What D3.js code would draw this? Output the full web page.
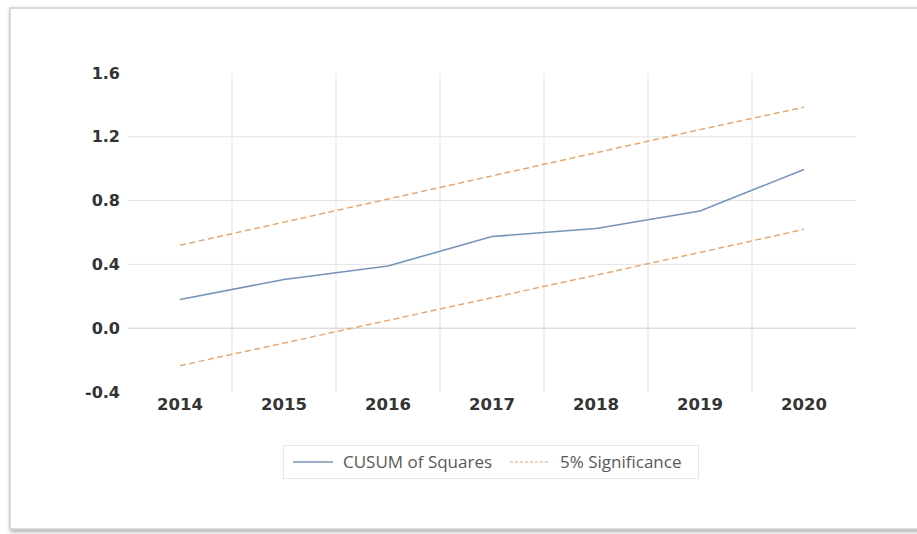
<!DOCTYPE html>
<html>
<head>
<meta charset="utf-8">
<script src="https://cdn.jsdelivr.net/npm/d3@7/dist/d3.min.js"></script>
<style>
  html, body { margin: 0; padding: 0; background: #ffffff; }
  svg { display: block; }
</style>
</head>
<body>
<svg id="chart" width="917" height="534"></svg>
<script>
// Years on the category axis
const years = ["2014", "2015", "2016", "2017", "2018", "2019", "2020"];
// CUSUM of squares statistic
const cusumSq = [0.18, 0.305, 0.39, 0.575, 0.625, 0.735, 0.995];
// 5% significance bounds
const upperBound = [0.52, 0.665, 0.81, 0.955, 1.10, 1.245, 1.385];
const lowerBound = [-0.235, -0.093, 0.049, 0.191, 0.333, 0.475, 0.62];
// Value-axis ticks
const yTicks = [-0.4, 0.0, 0.4, 0.8, 1.2, 1.6];

const svg = d3.select("#chart");

// Chart frame with soft shadow
const defs = svg.append("defs");
const shadow = defs.append("filter").attr("id", "frameShadow")
  .attr("x", "-5%").attr("y", "-5%").attr("width", "110%").attr("height", "110%");
shadow.append("feDropShadow").attr("dx", 1).attr("dy", 2)
  .attr("stdDeviation", 2).attr("flood-color", "#000").attr("flood-opacity", 0.35);

svg.append("rect")
  .attr("x", 10).attr("y", 8).attr("width", 930).attr("height", 521)
  .attr("fill", "#ffffff").attr("stroke", "#cfcfcf").attr("stroke-width", 1.5)
  .attr("filter", "url(#frameShadow)");

const plot = { left: 128, right: 856, top: 73, bottom: 392 };

const x = d3.scaleBand().domain(years).range([plot.left, plot.right]).padding(0);
const y = d3.scaleLinear().domain([-0.4, 1.6]).range([plot.bottom, plot.top]);

const g = svg.append("g");

// Horizontal gridlines (inner ticks only)
g.selectAll("line.hgrid")
  .data(yTicks.filter(v => v > -0.4 && v < 1.6 && v !== 0))
  .enter().append("line")
  .attr("x1", plot.left).attr("x2", plot.right)
  .attr("y1", d => y(d)).attr("y2", d => y(d))
  .attr("stroke", "#e3e3e3").attr("stroke-width", 1);

// Vertical gridlines between categories
g.selectAll("line.vgrid")
  .data(years.slice(1))
  .enter().append("line")
  .attr("x1", d => x(d)).attr("x2", d => x(d))
  .attr("y1", plot.top).attr("y2", plot.bottom)
  .attr("stroke", "#e3e3e3").attr("stroke-width", 1);

// Zero line
g.append("line")
  .attr("x1", plot.left).attr("x2", plot.right)
  .attr("y1", y(0)).attr("y2", y(0))
  .attr("stroke", "#cccccc").attr("stroke-width", 1);

// Y axis labels (plain hyphen for negatives)
const fmt = d => d3.format(".1f")(d).replace("\u2212", "-");
const yAxis = d3.axisLeft(y).tickValues(yTicks).tickFormat(fmt).tickSize(0).tickPadding(0);
const yAxisG = svg.append("g").attr("transform", `translate(120,0)`).call(yAxis);
yAxisG.select(".domain").remove();
yAxisG.selectAll("text")
  .attr("font-family", "'DejaVu Sans', Verdana, sans-serif")
  .attr("font-weight", "bold").attr("font-size", 16).attr("fill", "#333333");

// X axis labels
const xAxis = d3.axisBottom(x).tickSize(0).tickPadding(0);
const xAxisG = svg.append("g").attr("transform", `translate(0,398)`).call(xAxis);
xAxisG.select(".domain").remove();
xAxisG.selectAll("text")
  .attr("font-family", "'DejaVu Sans', Verdana, sans-serif")
  .attr("font-weight", "bold").attr("font-size", 16.5).attr("fill", "#333333");

const cx = d => x(d) + x.bandwidth() / 2;
const line = d3.line().x((d, i) => cx(years[i])).y(d => y(d));

const dashColor = "#e6a873";
const solidColor = "#7694b8";

g.append("path").datum(upperBound).attr("d", line)
  .attr("fill", "none").attr("stroke", dashColor).attr("stroke-width", 1.5)
  .attr("stroke-dasharray", "6,3.5");
g.append("path").datum(lowerBound).attr("d", line)
  .attr("fill", "none").attr("stroke", dashColor).attr("stroke-width", 1.5)
  .attr("stroke-dasharray", "6,3.5");
g.append("path").datum(cusumSq).attr("d", line)
  .attr("fill", "none").attr("stroke", solidColor).attr("stroke-width", 1.6);

// Legend
const legend = svg.append("g");
legend.append("rect")
  .attr("x", 283.5).attr("y", 445.5).attr("width", 415).attr("height", 33)
  .attr("fill", "#ffffff").attr("stroke", "#e6e6e6");
legend.append("line")
  .attr("x1", 293).attr("x2", 333).attr("y1", 462).attr("y2", 462)
  .attr("stroke", solidColor).attr("stroke-width", 1.5);
legend.append("text").attr("x", 343).attr("y", 468)
  .attr("font-family", "'Open Sans', sans-serif").attr("font-size", 17)
  .attr("fill", "#595959").text("CUSUM of Squares");
legend.append("line")
  .attr("x1", 510).attr("x2", 550).attr("y1", 462).attr("y2", 462)
  .attr("stroke", dashColor).attr("stroke-width", 1.2).attr("stroke-dasharray", "3,2");
legend.append("text").attr("x", 560).attr("y", 468)
  .attr("font-family", "'Open Sans', sans-serif").attr("font-size", 17)
  .attr("fill", "#595959").text("5% Significance");
</script>
</body>
</html>
